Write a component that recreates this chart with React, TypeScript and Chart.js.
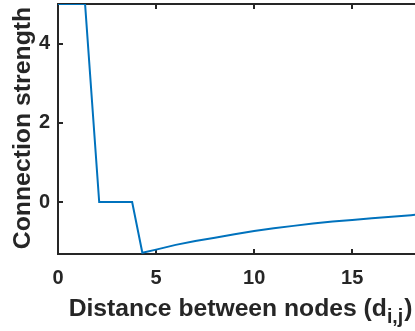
import React, { useEffect, useRef } from "react";
import { Chart, registerables } from "chart.js";

Chart.register(...registerables);

// ---- data ----
const distances = [0, 1.38, 2.1, 3.78, 4.3, 5, 6, 7, 8, 9, 10, 11, 12, 13, 14, 15, 16, 17, 18, 18.5];
const strengths = [5, 5, 0, 0, -1.28, -1.2, -1.08, -0.98, -0.9, -0.81, -0.73, -0.66, -0.6, -0.54, -0.49, -0.45, -0.41, -0.37, -0.33, -0.31];
const xTicks = [0, 5, 10, 15];
const yTicks = [0, 2, 4];
const xMin = 0;
const xMax = 18.2;
const yMin = -1.31;
const yMax = 5;
const xTitleMain = "Distance between nodes (d";
const xTitleSub = "i,j";
const xTitleEnd = ")";
const yTitle = "Connection strength";

const AXIS_COLOR = "#262626";
const LINE_COLOR = "#0072BD";
const FONT = '"Liberation Sans", Arial, Helvetica, sans-serif';

const matlabAxes = {
  id: "matlabAxes",
  beforeDatasetsDraw(chart: any) {
    const { ctx, chartArea, scales } = chart;
    const { left, right, top, bottom } = chartArea;
    const x = scales.x;
    const y = scales.y;
    ctx.save();
    ctx.strokeStyle = AXIS_COLOR;
    ctx.lineWidth = 2;
    ctx.beginPath();
    ctx.moveTo(left, top);
    ctx.lineTo(right + 2, top);
    ctx.moveTo(left, top - 1);
    ctx.lineTo(left, bottom + 1);
    ctx.moveTo(left, bottom);
    ctx.lineTo(right + 2, bottom);
    const tl = 5;
    xTicks.forEach((v) => {
      const px = Math.round(x.getPixelForValue(v));
      ctx.moveTo(px, bottom);
      ctx.lineTo(px, bottom - tl);
      ctx.moveTo(px, top);
      ctx.lineTo(px, top + tl);
    });
    yTicks.forEach((v) => {
      const py = Math.round(y.getPixelForValue(v));
      ctx.moveTo(left, py);
      ctx.lineTo(left + tl, py);
    });
    ctx.stroke();
    ctx.restore();
  },
  afterDraw(chart: any) {
    const { ctx, chartArea } = chart;
    const { left, right, top, bottom } = chartArea;
    ctx.save();
    ctx.fillStyle = AXIS_COLOR;
    // y title
    ctx.save();
    ctx.font = `bold 24.8px ${FONT}`;
    ctx.translate(30, (top + bottom) / 2 - 1);
    ctx.rotate(-Math.PI / 2);
    ctx.textAlign = "center";
    ctx.textBaseline = "alphabetic";
    ctx.fillText(yTitle, 0, 0);
    ctx.restore();
    // x title with subscript
    const mainFont = `bold 24.7px ${FONT}`;
    const subFont = `bold 19.5px ${FONT}`;
    ctx.font = mainFont;
    const wMain = ctx.measureText(xTitleMain).width;
    const wEnd = ctx.measureText(xTitleEnd).width;
    ctx.font = subFont;
    const wSub = ctx.measureText(xTitleSub).width;
    const total = wMain + wSub + wEnd + 1;
    const cx = (left + right) / 2 + 4;
    let sx = cx - total / 2;
    const base = 316;
    ctx.textAlign = "left";
    ctx.textBaseline = "alphabetic";
    ctx.font = mainFont;
    ctx.fillText(xTitleMain, sx, base);
    sx += wMain;
    ctx.font = subFont;
    ctx.fillText(xTitleSub, sx, base + 7);
    sx += wSub + 1;
    ctx.font = mainFont;
    ctx.fillText(xTitleEnd, sx, base);
    ctx.restore();
  },
};

export default function App() {
  const ref = useRef<HTMLCanvasElement | null>(null);
  useEffect(() => {
    if (!ref.current) return;
    const chart = new Chart(ref.current, {
      type: "line",
      data: {
        datasets: [
          {
            data: distances.map((d, i) => ({ x: d, y: strengths[i] })),
            borderColor: LINE_COLOR,
            borderWidth: 2,
            pointRadius: 0,
            tension: 0,
            fill: false,
          },
        ],
      },
      options: {
        responsive: false,
        animation: false,
        events: [],
        layout: { padding: { top: 4, right: 0, left: 0, bottom: 0 } },
        plugins: { legend: { display: false }, tooltip: { enabled: false }, title: { display: false } },
        scales: {
          x: {
            type: "linear",
            min: xMin,
            max: xMax,
            afterBuildTicks: (axis: any) => {
              axis.ticks = xTicks.map((v) => ({ value: v }));
            },
            afterFit: (axis: any) => {
              axis.height = 77;
              axis.paddingLeft = 0;
              axis.paddingRight = 0;
            },
            grid: { display: false, drawTicks: false },
            border: { display: false },
            ticks: {
              padding: 12,
              color: AXIS_COLOR,
              font: { family: FONT, size: 20, weight: "bold" },
              maxRotation: 0,
              autoSkip: false,
            },
          },
          y: {
            type: "linear",
            min: yMin,
            max: yMax,
            afterBuildTicks: (axis: any) => {
              axis.ticks = yTicks.map((v) => ({ value: v }));
            },
            afterFit: (axis: any) => {
              axis.width = 58;
              axis.paddingTop = 0;
              axis.paddingBottom = 0;
            },
            grid: { display: false, drawTicks: false },
            border: { display: false },
            ticks: {
              padding: 8,
              color: AXIS_COLOR,
              font: { family: FONT, size: 20, weight: "bold" },
              autoSkip: false,
            },
          },
        },
      },
      plugins: [matlabAxes],
    } as any);
    return () => chart.destroy();
  }, []);
  return (
    <div style={{ position: "absolute", left: 0, top: 0, width: 415, height: 331, background: "#fff" }}>
      <canvas ref={ref} width={415} height={331} style={{ display: "block", width: 415, height: 331 }} />
    </div>
  );
}
